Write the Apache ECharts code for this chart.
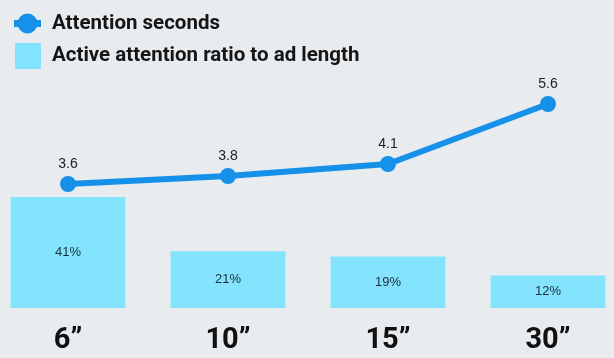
<!DOCTYPE html>
<html>
<head>
<meta charset="utf-8">
<script src="https://cdn.jsdelivr.net/npm/echarts@6/dist/echarts.min.js"></script>
<style>
html,body{margin:0;padding:0;background:#e9ecef;}
#c{width:614px;height:358px;}
</style>
</head>
<body>
<div id="c"></div>
<script>
const categories = ['6”', '10”', '15”', '30”'];
const attentionSeconds = [3.6, 3.8, 4.1, 5.6];
const activeRatio = [41, 21, 19, 12];
const seriesNames = ['Attention seconds', 'Active attention ratio to ad length'];

const headFont = "Roboto, 'DejaVu Sans Condensed', sans-serif";
const chart = echarts.init(document.getElementById('c'));
chart.setOption({
  backgroundColor: '#e9ecef',
  animation: false,
  legend: [{
    data: [{name: seriesNames[0], icon: 'path://M0,6.5H27V13.5H0Z M3.5,10A10,10 0 1 1 23.5,10A10,10 0 1 1 3.5,10Z'}],
    left: 14, top: 13, padding: 0,
    itemWidth: 27, itemHeight: 20,
    textStyle: {fontFamily: headFont, fontWeight: 'bold', fontSize: 20.5, color: '#161616', padding: [1, 0, 0, 6]}
  }, {
    data: [seriesNames[1]],
    left: 15, top: 43, padding: 0,
    itemWidth: 26, itemHeight: 26,
    icon: 'rect',
    textStyle: {fontFamily: headFont, fontWeight: 'bold', fontSize: 20.5, color: '#161616', padding: [2, 0, 0, 6]}
  }],
  grid: {left: -12, right: -14, top: 98, bottom: 50, containLabel: false, outerBoundsMode: 'none'},
  xAxis: {
    type: 'category',
    data: categories,
    axisLine: {show: false},
    axisTick: {show: false},
    axisLabel: {
      margin: 18,
      fontFamily: headFont, fontWeight: 'bold', fontSize: 29, color: '#111'
    }
  },
  yAxis: [{
    type: 'value', min: 0, max: 77.6, show: false, splitLine: {show: false}
  }, {
    type: 'value', min: 0.5, max: 5.75, show: false, splitLine: {show: false}
  }],
  series: [{
    name: seriesNames[0],
    type: 'line',
    yAxisIndex: 1,
    data: attentionSeconds,
    symbol: 'circle',
    symbolSize: 16,
    z: 5,
    lineStyle: {color: '#1591ea', width: 6},
    itemStyle: {color: '#1591ea'},
    label: {show: true, position: 'top', distance: 5, fontFamily: "'Liberation Sans', Arial, sans-serif", fontSize: 14, color: '#222'}
  }, {
    name: seriesNames[1],
    type: 'bar',
    yAxisIndex: 0,
    data: activeRatio,
    barWidth: 115,
    itemStyle: {color: '#84e4fd'},
    label: {show: true, position: 'inside', formatter: '{c}%', fontFamily: "'Liberation Sans', Arial, sans-serif", fontSize: 13, color: '#1a2e3a'}
  }]
});
</script>
</body>
</html>
